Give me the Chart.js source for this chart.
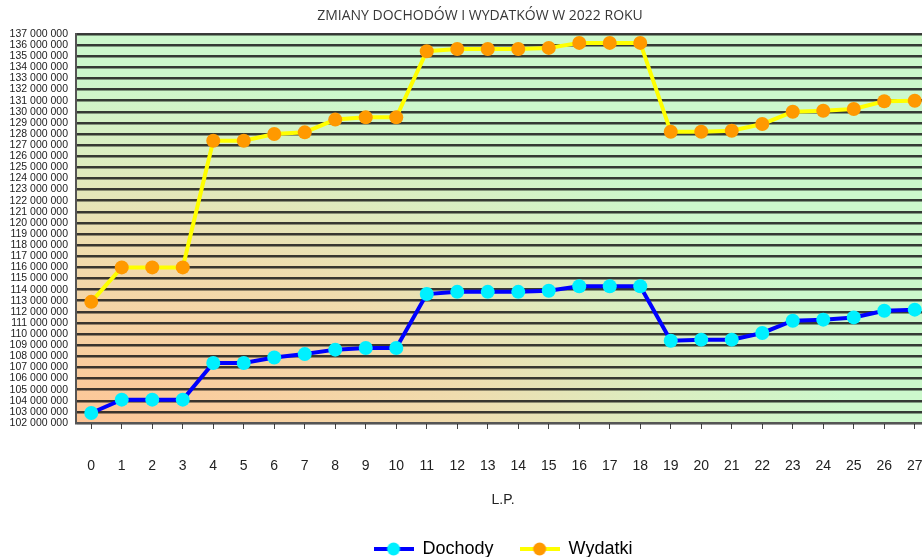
<!DOCTYPE html>
<html>
<head>
<meta charset="utf-8">
<script src="https://cdn.jsdelivr.net/npm/chart.js@4.4.1/dist/chart.umd.min.js"></script>
<style>
  html, body { margin: 0; padding: 0; background: #fff; overflow: hidden; }
  #wrap { width: 960px; height: 557px; }
</style>
</head>
<body>
<div id="wrap"><canvas id="chartZmiany" width="960" height="557"></canvas></div>
<script>
const lp = ['0','1','2','3','4','5','6','7','8','9','10','11','12','13','14','15','16','17','18','19','20','21','22','23','24','25','26','27'];

const dochody = [
  102900000, 104100000, 104100000, 104100000, 107400000, 107400000, 107900000, 108200000,
  108600000, 108750000, 108750000, 113600000, 113800000, 113800000, 113800000, 113900000,
  114300000, 114300000, 114300000, 109400000, 109500000, 109500000, 110100000, 111200000,
  111300000, 111500000, 112100000, 112200000
];

const wydatki = [
  112900000, 116000000, 116000000, 116000000, 127400000, 127400000, 128000000, 128150000,
  129300000, 129500000, 129500000, 135450000, 135650000, 135650000, 135650000, 135750000,
  136200000, 136200000, 136200000, 128200000, 128200000, 128300000, 128900000, 130000000,
  130100000, 130250000, 130950000, 131000000
];

const yMin = 102000000;
const yMax = 137000000;

function fmt(v) {
  return String(v).replace(/\B(?=(\d{3})+(?!\d))/g, ' ');
}

// legend marker: line + dot
function marker(lineColor, dotColor) {
  const c = document.createElement('canvas');
  c.width = 40; c.height = 16;
  const g = c.getContext('2d');
  g.strokeStyle = lineColor;
  g.lineWidth = 4;
  g.beginPath(); g.moveTo(0, 8); g.lineTo(40, 8); g.stroke();
  g.fillStyle = dotColor;
  g.beginPath(); g.arc(20, 8, 6.5, 0, Math.PI * 2); g.fill();
  return c;
}

const tlo = {
  id: 'tlo',
  beforeDraw(chart) {
    const { ctx, chartArea: a } = chart;
    const w = a.right - a.left, h = a.bottom - a.top;
    ctx.save();
    ctx.beginPath();
    ctx.rect(a.left, a.top, w, h);
    ctx.clip();
    ctx.translate(a.left, a.bottom);
    ctx.scale(w / h, 1);
    const gr = ctx.createRadialGradient(0, 0, 0, 0, 0, h);
    gr.addColorStop(0, '#fec596');
    gr.addColorStop(0.45, '#f0dcae');
    gr.addColorStop(0.68, '#dcedc0');
    gr.addColorStop(0.9, '#ccf8cc');
    gr.addColorStop(1, '#ccf8cc');
    ctx.fillStyle = gr;
    ctx.fillRect(0, -h, h * 1.5, h);
    ctx.restore();
  }
};

const ctx = document.getElementById('chartZmiany');

new Chart(ctx, {
  type: 'line',
  data: {
    labels: lp,
    datasets: [{
      label: 'Dochody',
      data: dochody,
      borderColor: '#0000ff',
      borderWidth: 4,
      pointBackgroundColor: '#00f0ff',
      pointBorderWidth: 0,
      pointRadius: 7,
      tension: 0
    }, {
      label: 'Wydatki',
      data: wydatki,
      borderColor: '#ffff00',
      borderWidth: 4,
      pointBackgroundColor: '#ff9900',
      pointBorderWidth: 0,
      pointRadius: 7,
      tension: 0
    }]
  },
  plugins: [tlo],
  options: {
    responsive: false,
    animation: false,
    layout: { padding: { left: 0, right: 0, top: 0, bottom: -11 } },
    elements: { point: { pointStyle: 'circle' } },
    plugins: {
      title: {
        display: true,
        text: 'ZMIANY DOCHODÓW I WYDATKÓW W 2022 ROKU',
        color: '#383838',
        font: { family: 'Open Sans', size: 14, weight: 'normal' },
        padding: { top: 7.6, bottom: 9.6 }
      },
      legend: {
        position: 'bottom',
        fullSize: false,
        labels: {
          color: '#222',
          font: { family: 'Liberation Sans', size: 18 },
          usePointStyle: true,
          pointStyleWidth: 40,
          padding: 26,
          generateLabels(chart) {
            return [
              { text: 'Dochody', pointStyle: marker('#0000ff', '#00f0ff'), fillStyle: '#00f0ff', strokeStyle: '#0000ff', lineWidth: 0, datasetIndex: 0 },
              { text: 'Wydatki', pointStyle: marker('#ffff00', '#ff9900'), fillStyle: '#ff9900', strokeStyle: '#ffff00', lineWidth: 0, datasetIndex: 1 }
            ];
          }
        }
      },
      tooltip: { enabled: false }
    },
    scales: {
      x: {
        offset: true,
        afterFit(scale) { scale.height = 91; },
        grid: { drawOnChartArea: false, color: '#444', tickLength: 6, lineWidth: 1 },
        border: { display: true, color: '#555', width: 2 },
        ticks: {
          color: '#222',
          font: { family: 'Liberation Sans', size: 14 },
          padding: 29,
          maxRotation: 0,
          autoSkip: false
        },
        title: {
          display: true,
          text: 'L.P.',
          color: '#222',
          font: { family: 'Liberation Sans', size: 14 },
          padding: { top: 0, bottom: 5.6 }
        }
      },
      y: {
        min: yMin,
        max: yMax,
        afterFit(scale) { scale.width = 76; },
        grid: { color: 'rgba(25,25,25,0.85)', lineWidth: 2.5, drawTicks: false },
        border: { display: true, color: '#555', width: 2 },
        ticks: {
          stepSize: 1000000,
          autoSkip: false,
          color: '#222',
          padding: 8,
          font: { family: 'Liberation Sans', size: 10.5 },
          callback: function(value) { return fmt(value); }
        }
      },
      // empty right axis: only reserves the space past the window edge
      y2: {
        position: 'right',
        min: yMin,
        max: yMax,
        afterFit(scale) { scale.width = 30; },
        grid: { display: false },
        border: { display: false },
        ticks: { display: false }
      }
    }
  }
});
</script>
</body>
</html>
